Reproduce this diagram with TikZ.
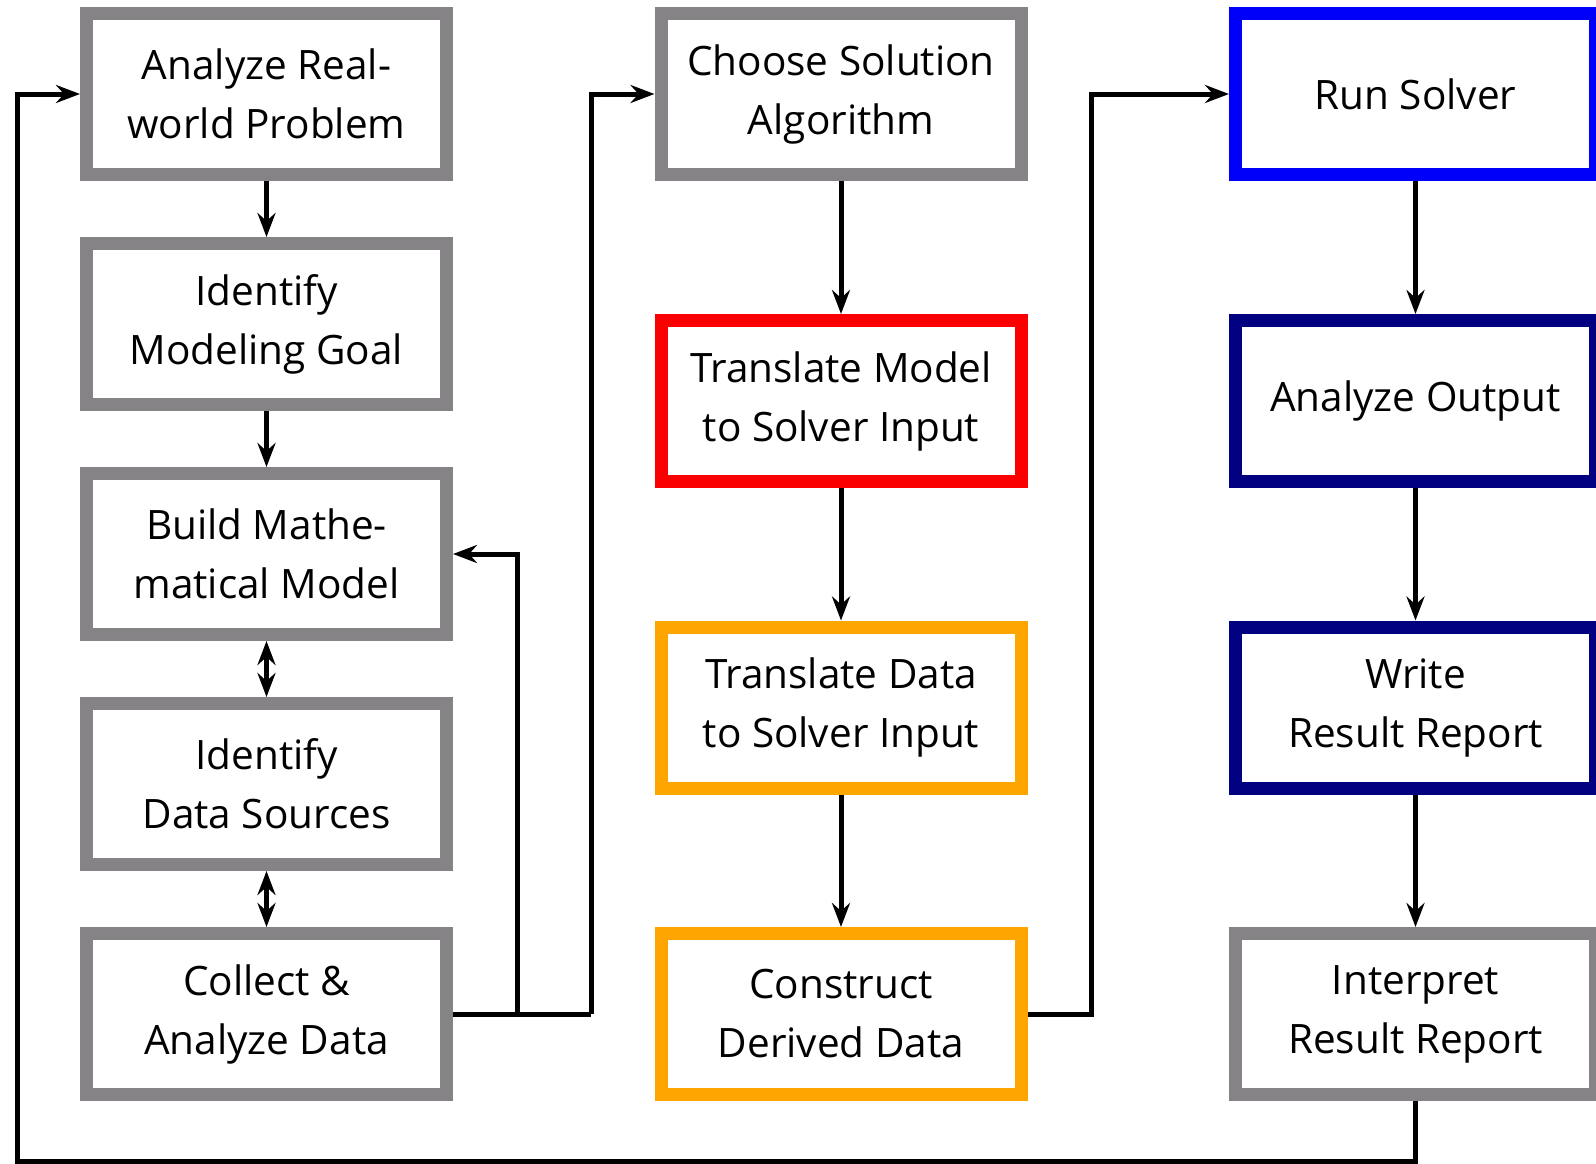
\documentclass[tikz,border=0pt]{standalone}
\usepackage{fontspec}
\setmainfont{Open Sans}
\usetikzlibrary{arrows.meta}

\definecolor{boxgray}{RGB}{133,131,133}
\definecolor{boxred}{RGB}{250,0,0}
\definecolor{boxorange}{RGB}{255,165,0}
\definecolor{boxblue}{RGB}{0,0,250}
\definecolor{boxnavy}{RGB}{0,0,128}

\begin{document}
\begin{tikzpicture}[x=1pt,y=-1pt,
  stepbox/.style={draw=#1, line width=13pt, fill=white,
    minimum width=360pt, minimum height=161pt, align=center,
    inner sep=0pt, font=\fontsize{40.5}{59}\selectfont},
  stepbox/.default=boxgray,
  link/.style={line width=5pt, -{Stealth[length=24pt,width=18pt,inset=8pt]}},
  twoway/.style={line width=5pt,
    {Stealth[length=24pt,width=18pt,inset=8pt]}-{Stealth[length=24pt,width=18pt,inset=8pt]}},
  plain/.style={line width=5pt}
]
\fill[white] (0,0) rectangle (1596,1164);
\useasboundingbox (0,0) rectangle (1596,1164);

% first column: problem and model
\node[stepbox] (a1) at (266.5,94)  {Analyze Real-\\world Problem};
\node[stepbox] (a2) at (266.5,324) {Identify\\Modeling Goal};
\node[stepbox] (a3) at (266.5,554) {Build Mathe-\\matical Model};
\node[stepbox] (a4) at (266.5,784) {Identify\\Data Sources};
\node[stepbox] (a5) at (266.5,1014) {Collect \&\\Analyze Data};

% second column: solver preparation
\node[stepbox] (b1) at (841,94)   {Choose Solution\\Algorithm};
\node[stepbox=boxred] (b2) at (841,401) {Translate Model\\to Solver Input};
\node[stepbox=boxorange] (b3) at (841,707.5) {Translate Data\\to Solver Input};
\node[stepbox=boxorange] (b4) at (841,1014) {Construct\\Derived Data};

% third column: solving and reporting
\node[stepbox=boxblue] (c1) at (1415.5,94)   {Run Solver};
\node[stepbox=boxnavy] (c2) at (1415.5,401)  {Analyze Output};
\node[stepbox=boxnavy] (c3) at (1415.5,707.5) {Write\\Result Report};
\node[stepbox] (c4) at (1415.5,1014) {Interpret\\Result Report};

% routing points
\coordinate (j1) at (517,1014);
\coordinate (j2) at (591,1014);
\coordinate (j3) at (1091,1014);
\coordinate (fb1) at (1415.5,1161);
\coordinate (fb2) at (17,1161);

% column links
\draw[link] (a1) -- (a2);
\draw[link] (a2) -- (a3);
\draw[twoway] (a3) -- (a4);
\draw[twoway] (a4) -- (a5);

\draw[link] (b1) -- (b2);
\draw[link] (b2) -- (b3);
\draw[link] (b3) -- (b4);

\draw[link] (c1) -- (c2);
\draw[link] (c2) -- (c3);
\draw[link] (c3) -- (c4);

% cross-column links
\draw[plain] (a5.east) -- (j2);
\draw[link] (j1) |- (a3.east);
\draw[link] (j2) |- (b1.west);
\draw[link] (b4.east) -- (j3) |- (c1.west);
\draw[link] (c4.south) -- (fb1) -- (fb2) |- (a1.west);
\end{tikzpicture}
\end{document}
